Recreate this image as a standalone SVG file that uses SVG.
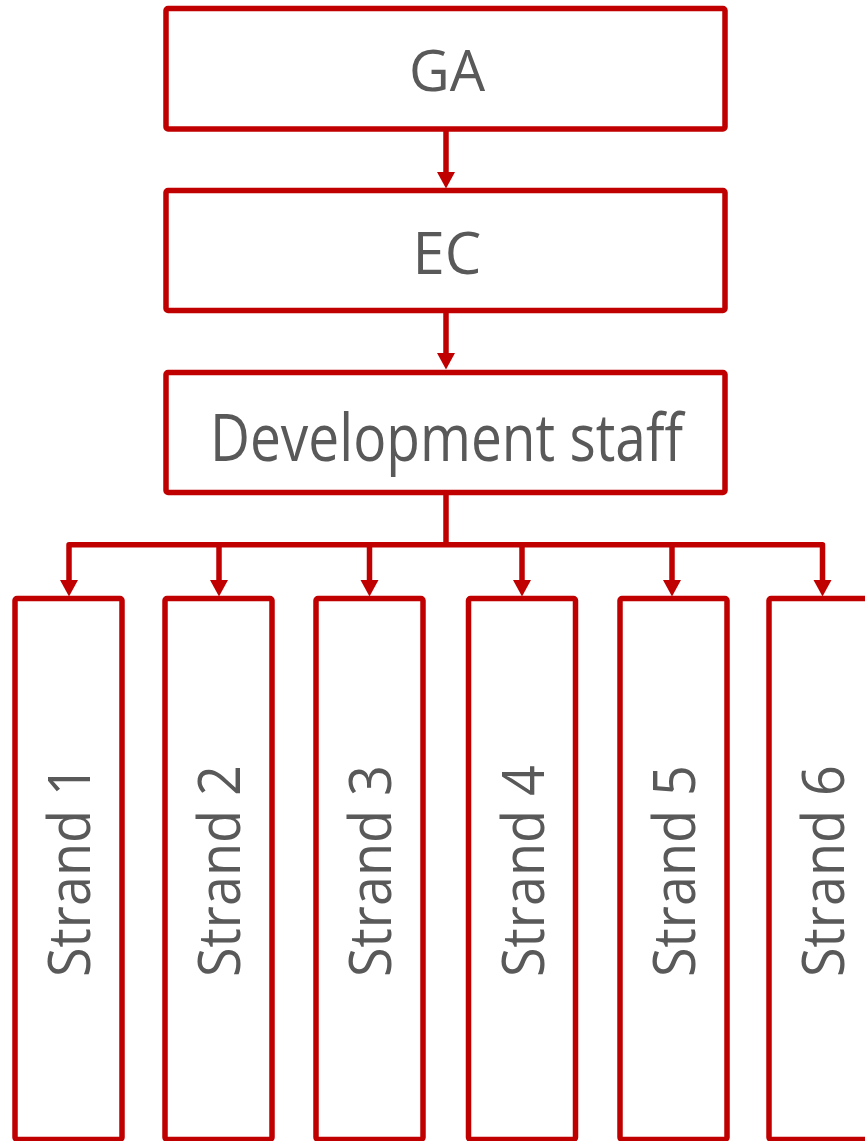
<svg xmlns="http://www.w3.org/2000/svg" width="865" height="1141" viewBox="0 0 865 1141">
<style>
.box{fill:#fff;stroke:#C00000;stroke-width:5.5;stroke-linejoin:round}
.lbl{font-family:"Open Sans","Liberation Sans",sans-serif;fill:#595959;text-anchor:middle}
.con{fill:none;stroke:#C00000;stroke-width:5.5;stroke-linejoin:round}
.head{fill:#C00000}
</style>
<defs>
<polygon id="ah" class="head" points="-9,0 9,0 0,16.5"/>
</defs>
<g id="connectors">
<path class="con" d="M446,129 V174"/>
<use href="#ah" x="446" y="172"/>
<path class="con" d="M446,310.5 V355"/>
<use href="#ah" x="446" y="353"/>
<path class="con" d="M446,492.5 V544.7"/>
<path class="con" d="M69,582 V544.7 H822.5 V582"/>
<path class="con" d="M219,544.7 V582"/>
<path class="con" d="M369.5,544.7 V582"/>
<path class="con" d="M522,544.7 V582"/>
<path class="con" d="M672,544.7 V582"/>
<use href="#ah" x="69" y="580"/>
<use href="#ah" x="219" y="580"/>
<use href="#ah" x="369.5" y="580"/>
<use href="#ah" x="522" y="580"/>
<use href="#ah" x="672" y="580"/>
<use href="#ah" x="822.5" y="580"/>
</g>
<g id="ga">
<rect class="box" x="166" y="8.5" width="559" height="120.5" rx="2"/>
<text class="lbl" x="447" y="90.5" font-size="56">GA</text>
</g>
<g id="ec">
<rect class="box" x="166" y="190.5" width="559" height="120" rx="2"/>
<text class="lbl" x="447" y="273.5" font-size="58">EC</text>
</g>
<g id="dev">
<rect class="box" x="166" y="372.5" width="559" height="120" rx="2"/>
<text class="lbl" x="446.5" y="461" font-size="65" textLength="473" lengthAdjust="spacingAndGlyphs">Development staff</text>
</g>
<g id="strand1">
<rect class="box" x="15" y="598.5" width="107" height="541" rx="2"/>
<text class="lbl" font-size="58" textLength="212" lengthAdjust="spacingAndGlyphs" transform="translate(90,871) rotate(-90)">Strand 1</text>
</g>
<g id="strand2">
<rect class="box" x="165" y="598.5" width="107" height="541" rx="2"/>
<text class="lbl" font-size="58" textLength="212" lengthAdjust="spacingAndGlyphs" transform="translate(240,871) rotate(-90)">Strand 2</text>
</g>
<g id="strand3">
<rect class="box" x="316" y="598.5" width="107" height="541" rx="2"/>
<text class="lbl" font-size="58" textLength="212" lengthAdjust="spacingAndGlyphs" transform="translate(391,871) rotate(-90)">Strand 3</text>
</g>
<g id="strand4">
<rect class="box" x="468.5" y="598.5" width="107" height="541" rx="2"/>
<text class="lbl" font-size="58" textLength="212" lengthAdjust="spacingAndGlyphs" transform="translate(543.5,871) rotate(-90)">Strand 4</text>
</g>
<g id="strand5">
<rect class="box" x="620" y="598.5" width="107" height="541" rx="2"/>
<text class="lbl" font-size="58" textLength="212" lengthAdjust="spacingAndGlyphs" transform="translate(695,871) rotate(-90)">Strand 5</text>
</g>
<g id="strand6">
<rect class="box" x="769" y="598.5" width="107" height="541" rx="2"/>
<text class="lbl" font-size="58" textLength="212" lengthAdjust="spacingAndGlyphs" transform="translate(844,871) rotate(-90)">Strand 6</text>
</g>
</svg>
